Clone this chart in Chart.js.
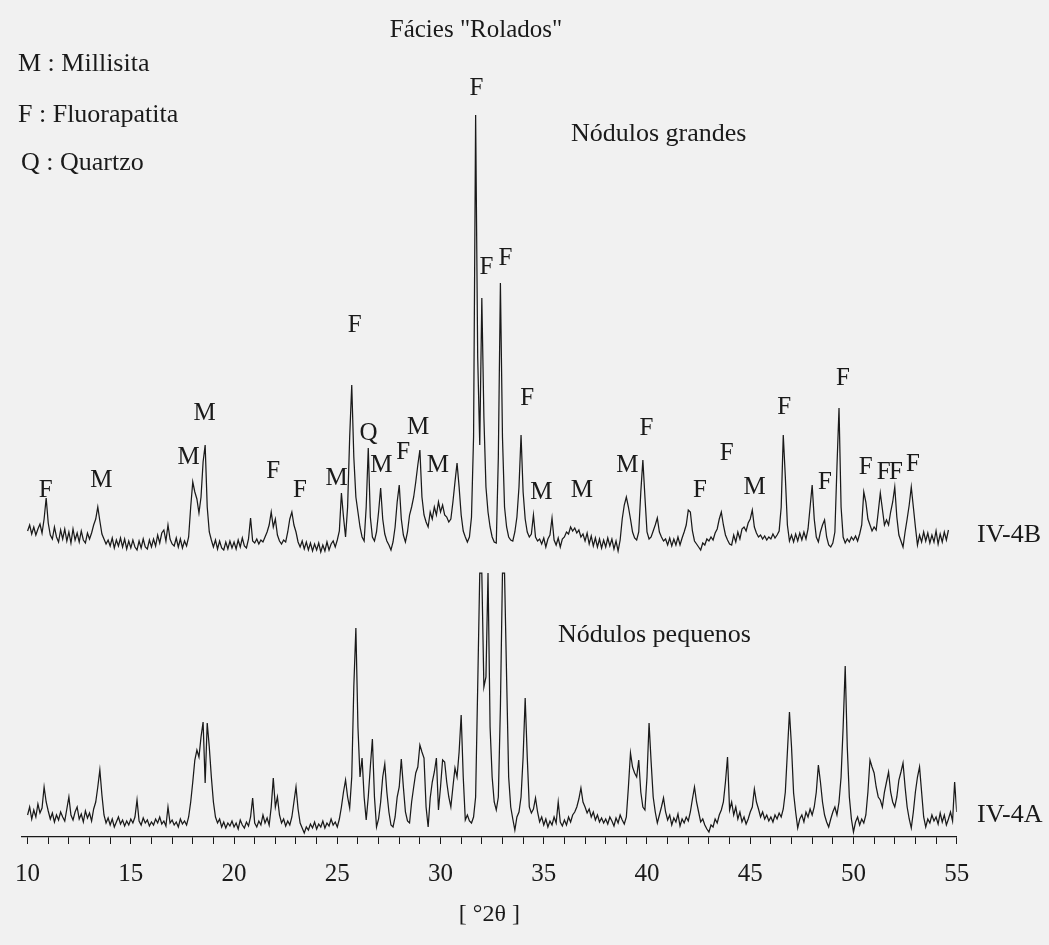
<!DOCTYPE html>
<html>
<head>
<meta charset="utf-8">
<title>Fácies "Rolados" – DRX</title>
<script src="https://cdn.jsdelivr.net/npm/chart.js@4.4.1/dist/chart.umd.min.js"></script>
<style>
  html, body { margin: 0; padding: 0; background: #f1f1f1; }
  #wrap { width: 1049px; height: 945px; }
  canvas { display: block; }
</style>
</head>
<body>
<div id="wrap"><canvas id="xrd" width="1049" height="945"></canvas></div>
<script>
// ---- sampling grid (°2θ), 10.0 … 55.0 every 0.1 ----
const thetaStart = 10.0;
const thetaStep = 0.1;

// ---- x-axis tick labels ----
const tickLabels = [10, 15, 20, 25, 30, 35, 40, 45, 50, 55];
const axisMin = 9.73;
const axisMax = 55.0;

// ---- IV-4B (Nódulos grandes), intensity, one row per degree ----
const intensityIV4B = [
  306, 312, 303, 310, 302, 308, 313, 304, 318, 339,
  314, 302, 298, 310, 300, 295, 307, 298, 308, 296,
  305, 294, 308, 297, 304, 295, 306, 297, 294, 304,
  298, 304, 312, 318, 330, 316, 303, 298, 293, 297,
  291, 299, 289, 297, 291, 299, 290, 298, 288, 296,
  289, 297, 290, 287, 296, 289, 298, 290, 288, 297,
  290, 298, 291, 302, 294, 304, 307, 296, 312, 298,
  293, 291, 299, 290, 298, 289, 296, 291, 300, 330,
  355, 345, 338, 324, 340, 375, 392, 330, 305, 297,
  290, 297, 288, 296, 289, 287, 295, 288, 296, 289,
  295, 288, 297, 290, 299, 291, 289, 298, 319, 296,
  294, 298, 293, 297, 295, 300, 305, 312, 325, 310,
  318, 302, 296, 293, 297, 295, 305, 318, 325, 312,
  305, 295, 290, 296, 288, 295, 287, 294, 286, 293,
  287, 294, 285, 292, 286, 295, 287, 293, 296, 290,
  297, 306, 344, 320, 300, 330, 400, 452, 380, 340,
  325, 310, 300, 296, 330, 389, 320, 300, 296, 305,
  325, 349, 318, 303, 296, 292, 287, 295, 310, 335,
  352, 318, 302, 295, 305, 322, 330, 340, 355, 372,
  387, 340, 322, 315, 310, 325, 318, 330, 322, 335,
  325, 332, 322, 320, 315, 318, 335, 355, 374, 350,
  322, 306, 300, 295, 300, 320, 400, 722, 480, 392,
  539, 420, 350, 325, 310, 300, 295, 294, 380, 554,
  400, 330, 310, 300, 297, 296, 305, 320, 350, 402,
  345, 318, 305, 300, 303, 322, 300, 296, 298, 293,
  299, 290, 298, 302, 319, 297, 292, 299, 290, 298,
  300, 305, 303, 310, 306, 309, 304, 307, 300, 303,
  296, 304, 293, 301, 291, 299, 290, 298, 289, 297,
  290, 299, 291, 298, 288, 296, 286, 297, 318, 332,
  340, 330, 318, 305, 299, 297, 305, 345, 377, 340,
  305, 298, 300, 306, 312, 319, 305, 300, 296, 298,
  292, 299, 291, 298, 292, 300, 292, 299, 305, 312,
  327, 325, 306, 296, 293, 290, 287, 294, 292, 298,
  296, 300, 297, 304, 308, 318, 325, 312, 302, 297,
  293, 292, 302, 295, 305, 298, 308, 310, 306, 314,
  318, 327, 310, 304, 300, 302, 298, 301, 297, 300,
  298, 303, 299, 302, 306, 330, 402, 360, 312, 296,
  302, 295, 303, 296, 304, 297, 305, 298, 308, 330,
  352, 318, 300, 295, 305, 312, 317, 300, 292, 290,
  294, 305, 370, 429, 330, 300, 294, 298, 295, 300,
  297, 301, 296, 303, 312, 345, 335, 318, 312, 306,
  310, 307, 325, 344, 328, 312, 317, 312, 325, 335,
  350, 320, 302, 296, 290, 305, 318, 332, 350, 330,
  310, 292, 302, 295, 305, 296, 304, 294, 302, 295,
  306, 293, 303, 295, 305, 297, 307, null, null, null,
  null
];

// ---- IV-4A (Nódulos pequenos), intensity (clipped peaks at 264) ----
const intensityIV4A = [
  22, 30, 18, 27, 20, 33, 24, 29, 50, 35,
  26, 18, 24, 15, 22, 17, 25, 20, 16, 28,
  40, 22, 17, 25, 30, 18, 23, 15, 26, 19,
  24, 16, 28, 35, 50, 67, 42, 22, 14, 19,
  12, 18, 10, 15, 20, 13, 17, 11, 16, 12,
  18, 14, 20, 37, 16, 12, 19, 14, 17, 11,
  15, 12, 18, 14, 20, 13, 16, 11, 30, 14,
  17, 12, 15, 10, 18, 13, 16, 12, 20, 35,
  55, 77, 87, 80, 100, 115, 54, 114, 90, 60,
  35, 20, 14, 18, 10, 15, 9, 14, 11, 16,
  10, 14, 8, 17, 12, 9, 15, 11, 20, 39,
  14, 10, 16, 12, 22, 14, 19, 12, 30, 59,
  30, 40, 22, 14, 18, 11, 16, 12, 20, 35,
  50, 28, 14, 9, 4, 10, 7, 13, 9, 15,
  8, 13, 10, 16, 9, 14, 11, 18, 12, 15,
  10, 18, 30, 45, 57, 40, 29, 60, 150, 209,
  110, 60, 79, 40, 17, 40, 70, 98, 40, 10,
  18, 35, 60, 73, 45, 25, 12, 10, 20, 40,
  50, 78, 50, 25, 16, 14, 35, 50, 64, 70,
  92, 85, 79, 30, 10, 39, 55, 65, 79, 27,
  50, 77, 75, 55, 40, 30, 50, 69, 60, 85,
  122, 60, 17, 22, 16, 14, 20, 40, 150, 264,
  264, 150, 160, 264, 110, 60, 35, 27, 40, 130,
  264, 264, 160, 60, 30, 18, 7, 20, 25, 40,
  80, 139, 80, 30, 24, 28, 39, 25, 15, 20,
  12, 18, 10, 16, 12, 20, 14, 35, 15, 11,
  17, 12, 20, 15, 22, 25, 30, 38, 49, 35,
  30, 24, 28, 20, 25, 17, 22, 15, 19, 14,
  18, 13, 20, 16, 11, 19, 14, 22, 17, 13,
  20, 50, 84, 70, 64, 60, 77, 45, 30, 27,
  60, 114, 75, 40, 25, 14, 22, 30, 39, 25,
  17, 22, 12, 19, 15, 23, 11, 18, 14, 20,
  16, 25, 38, 50, 35, 25, 15, 18, 12, 8,
  5, 12, 10, 18, 14, 22, 27, 35, 55, 80,
  27, 35, 22, 30, 18, 25, 15, 20, 13, 18,
  25, 30, 48, 35, 28, 20, 25, 18, 22, 16,
  20, 15, 22, 18, 24, 20, 28, 45, 85, 125,
  90, 44, 25, 9, 18, 22, 15, 25, 20, 28,
  22, 30, 45, 72, 55, 35, 22, 15, 10, 18,
  25, 30, 22, 35, 60, 110, 171, 90, 40, 18,
  5, 15, 20, 12, 18, 14, 22, 45, 77, 70,
  64, 50, 40, 37, 30, 45, 55, 65, 45, 35,
  30, 40, 57, 65, 74, 50, 30, 18, 9, 25,
  45, 60, 70, 45, 20, 10, 18, 14, 22, 16,
  20, 13, 24, 15, 22, 12, 18, 25, 16, 55,
  25
];

// ---- phase labels over the IV-4B peaks: letter, °2θ, height ----
const peakLetters = ['F','M','M','M','F','F','M','F','Q','M','F','M','M','F','F','F','F','M','M','M','F','F','F','M','F','F','F','F','F','F','F'];
const peakTheta   = [10.88,13.57,17.80,18.57,21.89,23.19,24.97,25.84,26.51,27.13,28.19,28.91,29.87,31.74,32.22,33.14,34.20,34.88,36.84,39.05,39.97,42.56,43.86,45.21,46.65,48.62,49.49,50.59,51.46,52.06,52.88];
const peakHeight  = [347,357,380,424,366,347,359,512,404,372,385,410,372,749,570,579,439,345,347,372,409,347,384,350,430,355,459,370,365,365,373];

// ---- legend / annotation texts ----
const titleText = 'Fácies "Rolados"';
const phaseKey = ['M : Millisita', 'F : Fluorapatita', 'Q : Quartzo'];
const sampleNames = ['IV-4B', 'IV-4A'];
const groupNames = ['Nódulos grandes', 'Nódulos pequenos'];
const axisTitle = '[ °2θ ]';

// ---- build the point tables ----
const twoTheta = intensityIV4A.map((_, i) => +(thetaStart + i * thetaStep).toFixed(1));
const pointsIV4B = twoTheta.map((t, i) => ({ x: t, y: intensityIV4B[i] }));
const pointsIV4A = twoTheta.map((t, i) => ({ x: t, y: intensityIV4A[i] }));

const INK = '#1a1a1a';
const SERIF = '"Liberation Serif", "Times New Roman", serif';

const annotationPlugin = {
  id: 'xrdAnnotations',
  beforeDraw(chart) {
    const ctx = chart.ctx;
    ctx.save();
    ctx.fillStyle = '#f1f1f1';
    ctx.fillRect(0, 0, chart.width, chart.height);
    ctx.restore();
  },
  afterDatasetsDraw(chart) {
    const { ctx, scales: { x, y } } = chart;
    ctx.save();
    ctx.fillStyle = INK;

    // peak letters
    ctx.font = '25px ' + SERIF;
    ctx.textAlign = 'center';
    ctx.textBaseline = 'middle';
    peakLetters.forEach((letter, i) => {
      ctx.fillText(letter, x.getPixelForValue(peakTheta[i]), y.getPixelForValue(peakHeight[i]));
    });

    // title
    ctx.textBaseline = 'alphabetic';
    ctx.font = '25px ' + SERIF;
    ctx.textAlign = 'center';
    ctx.fillText(titleText, 476, 37);

    // phase key
    ctx.textAlign = 'left';
    ctx.font = '26px ' + SERIF;
    ctx.fillText(phaseKey[0], 18, 71);
    ctx.fillText(phaseKey[1], 18, 122);
    ctx.fillText(phaseKey[2], 21, 170);

    // group names
    ctx.fillText(groupNames[0], 571, 141);
    ctx.fillText(groupNames[1], 558, 642);

    // sample names
    ctx.fillText(sampleNames[0], 977, 542);
    ctx.fillText(sampleNames[1], 977, 822);
    ctx.restore();
  }
};

new Chart(document.getElementById('xrd'), {
  type: 'line',
  data: {
    datasets: [
      { label: 'IV-4B', data: pointsIV4B, borderColor: INK, borderWidth: 1.25, pointRadius: 0, tension: 0, fill: false, spanGaps: false },
      { label: 'IV-4A', data: pointsIV4A, borderColor: INK, borderWidth: 1.25, pointRadius: 0, tension: 0, fill: false, spanGaps: false }
    ]
  },
  options: {
    responsive: false,
    animation: false,
    devicePixelRatio: 1,
    layout: { padding: { top: 77, left: 15.1, right: 92.3, bottom: 0 } },
    plugins: {
      legend: { display: false },
      tooltip: { enabled: false },
      title: { display: false }
    },
    scales: {
      x: {
        type: 'linear',
        min: axisMin,
        max: axisMax,
        afterBuildTicks(scale) {
          const ticks = [];
          for (let v = tickLabels[0]; v <= tickLabels[tickLabels.length - 1]; v += 1) ticks.push({ value: v });
          scale.ticks = ticks;
        },
        afterFit(scale) { scale.height = 108; },
        grid: { display: true, drawOnChartArea: false, drawTicks: true, tickLength: 7, color: INK, lineWidth: 1 },
        border: { display: true, color: INK, width: 1.3 },
        ticks: {
          autoSkip: false,
          maxRotation: 0,
          padding: 15,
          color: INK,
          font: { family: SERIF, size: 25 },
          callback: (v) => tickLabels.includes(v) ? String(v) : ''
        },
        title: {
          display: true,
          text: axisTitle,
          color: INK,
          font: { family: SERIF, size: 24 },
          padding: { top: 0, bottom: 16 }
        }
      },
      y: {
        display: false,
        min: 0,
        max: 760
      }
    }
  },
  plugins: [annotationPlugin]
});
</script>
</body>
</html>
